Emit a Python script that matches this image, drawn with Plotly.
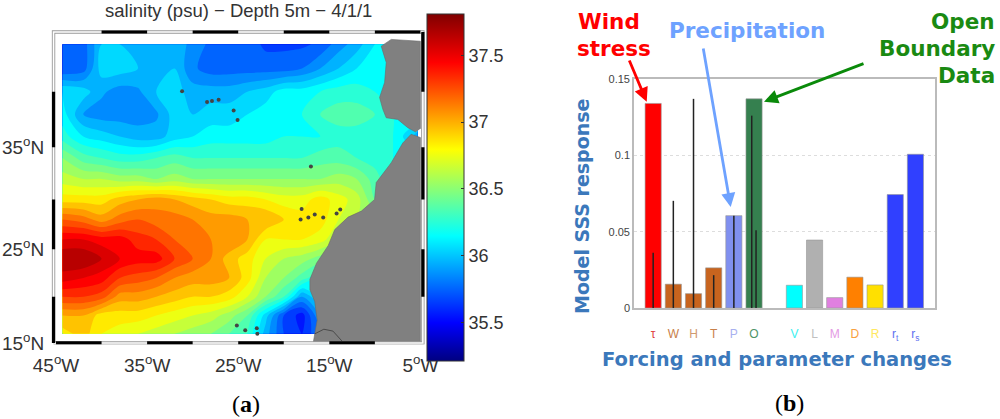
import math
import plotly.graph_objects as go

# ---------- panel (a): salinity map ----------
lons = [-44.3, -42, -40, -38, -36, -34, -32, -30, -28, -26, -24, -22, -20, -18, -16, -14, -12, -10, -8, -5.3]
lats = [16, 18, 20, 22, 24, 26, 28, 30, 32, 34, 36, 38, 40, 42, 44]
sal_16 = [36.85, 36.95, 36.8, 36.75, 36.7, 36.65, 36.6, 36.55, 36.5, 36.4, 36.3, 35.95, 35.7, 35.6, 35.8, 36.0, 36.0, 36.0, 36.0, 36.0]
sal_18 = [37.0, 37.0, 36.85, 36.85, 36.85, 36.8, 36.75, 36.7, 36.65, 36.55, 36.4, 36.05, 35.7, 35.55, 35.9, 36.0, 36.0, 36.0, 36.0, 36.0]
sal_20 = [37.3, 37.3, 37.25, 37.05, 37.05, 37.0, 36.95, 36.9, 36.9, 36.85, 36.7, 36.5, 36.3, 35.9, 36.1, 36.1, 36.1, 36.1, 36.1, 36.1]
sal_22 = [37.55, 37.5, 37.45, 37.3, 37.25, 37.2, 37.1, 37.05, 37.05, 37.0, 36.85, 36.6, 36.5, 36.35, 36.2, 36.2, 36.2, 36.2, 36.2, 36.2]
sal_24 = [37.7, 37.7, 37.6, 37.5, 37.45, 37.45, 37.3, 37.2, 37.1, 36.95, 36.85, 36.7, 36.6, 36.55, 36.45, 36.4, 36.4, 36.4, 36.4, 36.4]
sal_26 = [37.5, 37.5, 37.45, 37.45, 37.35, 37.3, 37.2, 37.2, 37.1, 37.1, 37.0, 36.8, 36.8, 36.8, 36.75, 36.6, 36.5, 36.5, 36.5, 36.5]
sal_28 = [37.2, 37.15, 37.05, 37.15, 37.2, 37.15, 37.15, 37.1, 37.05, 37.05, 37.0, 37.0, 36.9, 36.85, 36.85, 36.7, 36.6, 36.5, 36.5, 36.5]
sal_30 = [36.85, 36.85, 36.85, 36.95, 37.0, 37.05, 37.0, 36.95, 36.9, 36.85, 36.85, 36.8, 36.75, 36.75, 36.85, 36.75, 36.65, 36.4, 36.3, 36.3]
sal_32 = [36.65, 36.6, 36.6, 36.55, 36.55, 36.5, 36.55, 36.5, 36.5, 36.5, 36.5, 36.5, 36.5, 36.5, 36.5, 36.55, 36.5, 36.35, 36.2, 36.2]
sal_34 = [36.5, 36.35, 36.3, 36.25, 36.25, 36.3, 36.35, 36.3, 36.3, 36.3, 36.3, 36.3, 36.3, 36.3, 36.35, 36.35, 36.3, 36.25, 36.2, 36.2]
sal_36 = [36.25, 36.1, 36.05, 36.0, 35.95, 35.95, 36.05, 36.1, 36.15, 36.15, 36.15, 36.15, 36.2, 36.2, 36.2, 36.25, 36.25, 36.25, 36.2, 35.95]
sal_38 = [36.15, 35.9, 35.85, 35.85, 35.85, 35.88, 36.05, 36.0, 36.05, 36.05, 36.1, 36.15, 36.15, 36.2, 36.3, 36.35, 36.35, 36.3, 36.2, 36.2]
sal_40 = [36.1, 36.05, 35.92, 35.85, 35.88, 36.0, 36.05, 35.95, 35.95, 35.95, 36.0, 36.05, 36.15, 36.15, 36.2, 36.25, 36.25, 36.2, 36.2, 36.2]
sal_42 = [35.7, 35.75, 36.05, 36.05, 36.0, 36.0, 36.0, 35.82, 35.75, 35.75, 35.75, 35.75, 35.75, 35.8, 35.9, 36.0, 36.1, 36.2, 36.2, 36.2]
sal_44 = [35.7, 35.75, 36.0, 36.0, 36.0, 36.0, 36.0, 35.85, 35.78, 35.78, 35.75, 35.68, 35.68, 35.68, 35.72, 35.85, 35.95, 36.1, 36.2, 36.2]
sal_rows = [sal_16, sal_18, sal_20, sal_22, sal_24, sal_26, sal_28, sal_30, sal_32, sal_34, sal_36, sal_38, sal_40, sal_42, sal_44]

africa_lon = [-16.77, -16.6, -16.33, -16.6, -17.13, -17.13, -16.4, -15.13, -14.4, -12.94, -11.48, -10.03, -9.85, -8.2, -6.93, -6.02, -5.0, -5.0]
africa_lat = [15.0, 16.07, 17.5, 19.5, 20.75, 21.85, 23.55, 25.35, 27.0, 28.25, 28.85, 30.0, 31.65, 33.55, 35.4, 36.2, 35.9, 15.0]
iberia_lon = [-5.5, -6.38, -7.48, -8.75, -9.12, -9.48, -8.93, -8.75, -9.3, -8.2, -5.0, -5.0]
iberia_lat = [36.4, 36.8, 37.55, 37.7, 38.45, 39.5, 40.8, 42.5, 43.85, 44.4, 44.25, 36.7]
senegal_lon = [-16.6, -15.6, -14.6, -13.6]
senegal_lat = [16.0, 16.5, 16.3, 15.2]
island_lon = [-31.16, -28.42, -27.88, -27.15, -25.5, -25.07, -17.02, -18.04, -18.15, -17.3, -16.6, -15.67, -14.2, -13.8, -25.15, -24.23, -22.96, -22.9]
island_lat = [40.05, 39.1, 39.2, 39.3, 38.35, 37.5, 33.2, 29.05, 28.0, 28.2, 28.5, 28.2, 28.6, 29.0, 16.9, 16.4, 16.6, 16.0]
frame_lon_marks = [-45, -40, -35, -30, -25, -20, -15, -10, -5]
frame_lat_marks = [15, 20, 25, 30, 35, 40, 45]
map_x_ticks = [-45, -35, -25, -15, -5]
map_x_labels = ["45<sup>o</sup>W", "35<sup>o</sup>W", "25<sup>o</sup>W", "15<sup>o</sup>W", "5<sup>o</sup>W"]
map_y_ticks = [15, 25, 35]
map_y_labels = ["15<sup>o</sup>N", "25<sup>o</sup>N", "35<sup>o</sup>N"]
cbar_ticks = [35.5, 36, 36.5, 37, 37.5]
cbar_labels = ["35.5", "36", "36.5", "37", "37.5"]
SAL_MIN, SAL_MAX = 35.21, 37.81
JET = [[0, "#000080"], [0.11, "#0000ff"], [0.36, "#00ffff"], [0.61, "#ffff00"], [0.86, "#ff0000"], [1, "#800000"]]

# ---------- panel (b): bars ----------
bar_labels = ["τ", "W", "H", "T", "P", "O", "", "V", "L", "M", "D", "R", "r<sub>t</sub>", "r<sub>s</sub>"]
label_colors = ["#e04040", "#c8804a", "#d09a70", "#c8804a", "#a8b0f0", "#4f9468", "#ffffff", "#40f0f0", "#c0c0c0", "#e49ae4", "#f8a040", "#ffe860", "#6070f0", "#6070f0"]
bar_values = [0.134, 0.0156, 0.0094, 0.0263, 0.0605, 0.137, None, 0.0149, 0.0445, 0.0068, 0.0202, 0.0151, 0.0743, 0.1007]
bar_colors = ["#ff0000", "#c8641e", "#c8641e", "#c8641e", "#8090f0", "#35804f", "#ffffff", "#00ffff", "#b0b0b0", "#e080e0", "#ff8000", "#ffe000", "#3040ff", "#3040ff"]
whisker_pos = [0, 1, 2, 3, 4, 4.885, 5.1]
whisker_top = [0.0362, 0.0702, 0.137, 0.0215, 0.0605, 0.126, 0.051]


def merc(lat):
    return math.log(math.tan(math.pi / 4 + math.radians(lat) / 2))


def px_x(p):
    return p / 1000


def px_y(p):
    return 1 - p / 419


fig = go.Figure()

fig.add_trace(go.Contour(
    x=lons, y=[merc(v) for v in lats], z=sal_rows, colorscale=JET, zmin=SAL_MIN, zmax=SAL_MAX,
    autocontour=False, contours=dict(start=35.2, end=37.9, size=0.1, coloring="fill"),
    line=dict(width=0, smoothing=0.9), showscale=False, xaxis="x", yaxis="y"))

fig.add_trace(go.Scatter(
    x=[None], y=[None], mode="markers", xaxis="x", yaxis="y", showlegend=False,
    marker=dict(color=cbar_ticks, colorscale=JET, cmin=SAL_MIN, cmax=SAL_MAX, showscale=True,
                colorbar=dict(x=0.427, xanchor="left", y=px_y(14), yanchor="top", len=347 / 419,
                              lenmode="fraction", thickness=37, thicknessmode="pixels", xpad=0, ypad=0,
                              outlinecolor="#333", outlinewidth=1, tickmode="array", tickvals=cbar_ticks,
                              ticktext=cbar_labels, ticks="inside", ticklen=3, tickcolor="#333",
                              tickfont=dict(family="Liberation Sans", size=18, color="#333")))))

for lo, la in ((africa_lon, africa_lat), (iberia_lon, iberia_lat)):
    fig.add_trace(go.Scatter(x=lo, y=[merc(v) for v in la], mode="lines", fill="toself", fillcolor="#808080",
                             line=dict(color="#6a6a6a", width=0.6), xaxis="x", yaxis="y", showlegend=False))
fig.add_trace(go.Scatter(x=senegal_lon, y=[merc(v) for v in senegal_lat], mode="lines",
                         line=dict(color="#4a4a4a", width=1), xaxis="x", yaxis="y", showlegend=False))
fig.add_trace(go.Scatter(x=island_lon, y=[merc(v) for v in island_lat], mode="markers",
                         marker=dict(color="#444", size=4), xaxis="x", yaxis="y", showlegend=False))

W, E = frame_lon_marks[0] - 0.27, frame_lon_marks[-1] + 0.27
S, N = frame_lat_marks[0], frame_lat_marks[-1]
for col, wid in (("#999999", 3.4), ("#ffffff", 1.6)):
    fig.add_trace(go.Scatter(x=[W, E, E, W, W], y=[merc(S), merc(S), merc(N), merc(N), merc(S)], mode="lines",
                             line=dict(color=col, width=wid), xaxis="x", yaxis="y", showlegend=False))
bx, by = [], []
for i in range(len(frame_lon_marks) - 1):
    a, b = frame_lon_marks[i], frame_lon_marks[i + 1]
    yy = merc(S) if i % 2 == 0 else merc(N)
    bx += [a, b, None]
    by += [yy, yy, None]
for i in range(len(frame_lat_marks) - 1):
    a, b = frame_lat_marks[i], frame_lat_marks[i + 1]
    xx = W if i % 2 == 0 else E
    bx += [xx, xx, None]
    by += [merc(a), merc(b), None]
fig.add_trace(go.Scatter(x=bx, y=by, mode="lines", line=dict(color="#000", width=3.2), xaxis="x", yaxis="y", showlegend=False))

xs = list(range(len(bar_values)))
fig.add_trace(go.Bar(x=xs, y=bar_values, width=0.8, marker=dict(color=bar_colors, line=dict(color="rgba(150,150,150,0.6)", width=1)),
                     xaxis="x2", yaxis="y2", showlegend=False))
wx, wy = [], []
for p, t in zip(whisker_pos, whisker_top):
    wx += [p, p, None]
    wy += [0, t, None]
fig.add_trace(go.Scatter(x=wx, y=wy, mode="lines", line=dict(color="#222", width=1.5), xaxis="x2", yaxis="y2", showlegend=False))

text_ann = [
    dict(text="salinity (psu) − Depth 5m − 4/1/1", px=238, py=11, size=18.5, color="#333", family="Liberation Sans"),
    dict(text="(<b>a</b>)", px=246, py=404, size=24, color="#000", family="Liberation Serif"),
    dict(text="(<b>b</b>)", px=789, py=403, size=24, color="#000", family="Liberation Serif"),
    dict(text="<b>Wind</b>", px=609, py=22, size=21.5, color="#ff0000", family="DejaVu Sans"),
    dict(text="<b>stress</b>", px=614, py=48, size=21.5, color="#ff0000", family="DejaVu Sans"),
    dict(text="<b>Precipitation</b>", px=747, py=30, size=21.5, color="#6ea2ff", family="DejaVu Sans"),
    dict(text="<b>Open</b>", px=997, py=22, size=21.5, color="#1a8a12", family="DejaVu Sans", xanchor="right"),
    dict(text="<b>Boundary</b>", px=997, py=48, size=21.5, color="#1a8a12", family="DejaVu Sans", xanchor="right"),
    dict(text="<b>Data</b>", px=997, py=75, size=21.5, color="#1a8a12", family="DejaVu Sans", xanchor="right"),
    dict(text="<b>Forcing and parameter changes</b>", px=777, py=359, size=19.5, color="#3b78bb", family="DejaVu Sans"),
    dict(text="<b>Model SSS response</b>", px=582, py=207, size=19, color="#3b78bb", family="DejaVu Sans", textangle=-90),
]
annotations = []
for t in text_ann:
    annotations.append(dict(text=t["text"], x=px_x(t["px"]), y=px_y(t["py"]), xref="paper", yref="paper",
                            xanchor=t.get("xanchor", "center"), yanchor="middle", showarrow=False,
                            textangle=t.get("textangle", 0), font=dict(family=t["family"], size=t["size"], color=t["color"])))
arrows = [((628.7, 59), (646.7, 101.7), "#ff0000"), ((703, 47), (730.7, 207), "#6ea2ff"), ((865, 63), (764, 101.7), "#0a8a0a")]
for s, e, c in arrows:
    annotations.append(dict(text="", x=px_x(e[0]), y=px_y(e[1]), xref="paper", yref="paper", ax=s[0] - e[0], ay=s[1] - e[1],
                            showarrow=True, arrowhead=2, arrowsize=1.0, arrowwidth=2.8, arrowcolor=c, standoff=0, startstandoff=0))

fig.update_layout(
    width=1000, height=419, margin=dict(l=0, r=0, t=0, b=0, autoexpand=False), autosize=False,
    paper_bgcolor="white", plot_bgcolor="white", showlegend=False, annotations=annotations, bargap=0.2,
    xaxis=dict(domain=[0.050, 0.426], range=[-45.66, -4.386], showgrid=False, zeroline=False, showline=False, automargin=False,
               tickmode="array", tickvals=map_x_ticks, ticktext=map_x_labels, ticks="outside", ticklen=4, tickcolor="rgba(0,0,0,0)",
               tickfont=dict(family="Liberation Sans", size=19, color="#333"), tickangle=0),
    yaxis=dict(domain=[px_y(344.5), px_y(29)], range=[0.2618, 0.8873], showgrid=False, zeroline=False, showline=False, automargin=False,
               tickmode="array", tickvals=[merc(v) for v in map_y_ticks], ticktext=map_y_labels, ticks="outside", ticklen=1, tickcolor="rgba(0,0,0,0)",
               tickfont=dict(family="Liberation Sans", size=19, color="#333")),
    xaxis2=dict(domain=[0.634, 0.935], range=[-0.95, 13.97], anchor="y2", showgrid=False, zeroline=False, showline=True, automargin=False,
                linecolor="#bbbbbb", linewidth=1.6, mirror=True, tickmode="array", tickvals=xs,
                ticktext=[f'<span style="color:{c}">{t}</span>' for t, c in zip(bar_labels, label_colors)],
                ticks="outside", ticklen=14, tickcolor="rgba(0,0,0,0)", tickangle=0,
                tickfont=dict(family="Liberation Sans", size=12)),
    yaxis2=dict(domain=[px_y(308), px_y(79)], range=[0, 0.15], anchor="x2", showgrid=True, gridcolor="#dddddd", griddash="dot", automargin=False,
                gridwidth=1, zeroline=False, showline=True, linecolor="#bbbbbb", linewidth=1.6, mirror=True,
                tickmode="array", tickvals=[0, 0.05, 0.1, 0.15], ticktext=["0", "0.05", "0.1", "0.15"], ticks="",
                tickfont=dict(family="Liberation Sans", size=11, color="#444")),
)

fig.write_html("out.html", config={"displayModeBar": False},
               post_script="document.body.style.margin='0';document.documentElement.style.overflow='hidden';")
